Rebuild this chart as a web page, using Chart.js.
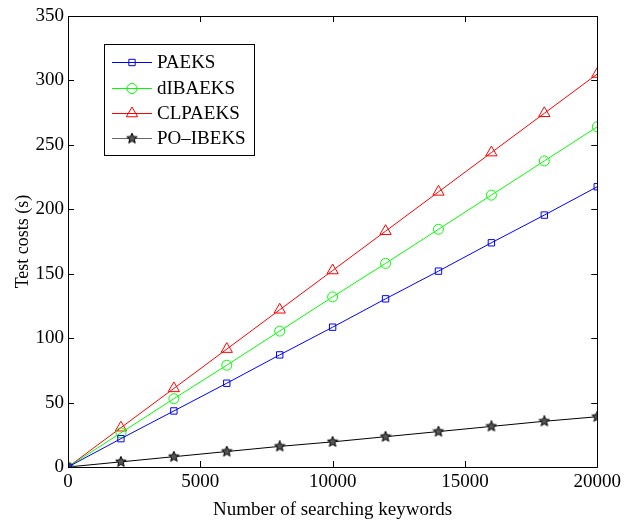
<!DOCTYPE html>
<html>
<head>
<meta charset="utf-8">
<script src="https://cdn.jsdelivr.net/npm/chart.js@4.4.0/dist/chart.umd.min.js"></script>
<style>
html,body{margin:0;padding:0;background:#fff;}
#wrap{width:625px;height:526px;position:relative;}
</style>
</head>
<body>
<div id="wrap"><canvas id="c" width="625" height="526"></canvas></div>
<script>
const keywords = [0, 2000, 4000, 6000, 8000, 10000, 12000, 14000, 16000, 18000, 20000];
const paeks   = [0, 22, 43.5, 65, 87, 108.5, 130.5, 152, 174, 195.5, 217.5];
const dibaeks = [0, 26.5, 53, 79, 105.5, 132, 158, 184.5, 211, 237.5, 264];
const clpaeks = [0, 30.5, 61, 91.5, 122, 152.5, 183, 213.5, 244, 274.5, 305];
const poibeks = [0, 4, 8, 12, 16, 19.5, 23.5, 27.5, 31.5, 35.5, 39];
const seriesNames = ['PAEKS', 'dIBAEKS', 'CLPAEKS', 'PO\u2013IBEKS'];
const xTicks = [0, 5000, 10000, 15000, 20000];
const yTicks = [0, 50, 100, 150, 200, 250, 300, 350];

const FONT = '"Liberation Serif", "Times New Roman", serif';

function starImage(size, fill, stroke) {
  const cv = document.createElement('canvas');
  cv.width = size; cv.height = size;
  const g = cv.getContext('2d');
  const cx = size / 2, cy = size / 2, R = size / 2 - 0.5, r = R * 0.45;
  g.beginPath();
  for (let i = 0; i < 10; i++) {
    const ang = -Math.PI / 2 + i * Math.PI / 5;
    const rad = i % 2 === 0 ? R : r;
    const x = cx + rad * Math.cos(ang), y = cy + rad * Math.sin(ang);
    if (i === 0) g.moveTo(x, y); else g.lineTo(x, y);
  }
  g.closePath();
  g.fillStyle = fill; g.fill();
  g.lineWidth = 1; g.strokeStyle = stroke; g.stroke();
  return cv;
}
const star = starImage(12, '#555', '#000');

function pts(vals) { return keywords.map((k, i) => ({x: k, y: vals[i]})); }

const colors = ['#0000ff', '#00ff00', '#ff0000', '#000000'];
const styles = ['rect', 'circle', 'triangle', star];
const radii = [4.5, 5, 6.5, 6];

const datasets = [paeks, dibaeks, clpaeks, poibeks].map((v, i) => ({
  label: seriesNames[i],
  data: pts(v),
  borderColor: colors[i],
  backgroundColor: 'rgba(0,0,0,0)',
  borderWidth: 1,
  pointStyle: styles[i],
  pointRadius: radii[i],
  pointBorderColor: colors[i],
  pointBackgroundColor: 'rgba(0,0,0,0)',
  pointBorderWidth: 1,
  tension: 0
}));

const boxPlugin = {
  id: 'box',
  afterDraw(chart) {
    const ctx = chart.ctx;
    const a = chart.chartArea;
    const xs = chart.scales.x, ys = chart.scales.y;
    ctx.save();
    ctx.strokeStyle = '#000';
    ctx.lineWidth = 1;
    ctx.beginPath();
    ctx.rect(Math.round(a.left) + 0.5, Math.round(a.top) + 0.5, Math.round(a.right - a.left), Math.round(a.bottom - a.top));
    ctx.stroke();
    const tl = 6;
    ctx.beginPath();
    xTicks.forEach(t => {
      const x = Math.round(xs.getPixelForValue(t)) + 0.5;
      ctx.moveTo(x, a.bottom); ctx.lineTo(x, a.bottom - tl);
      ctx.moveTo(x, a.top); ctx.lineTo(x, a.top + tl);
    });
    yTicks.forEach(t => {
      const y = Math.round(ys.getPixelForValue(t)) + 0.5;
      ctx.moveTo(a.left, y); ctx.lineTo(a.left + tl, y);
      ctx.moveTo(a.right, y); ctx.lineTo(a.right - tl, y);
    });
    ctx.stroke();

    // legend
    const bx = 104.5, by = 44.5, bw = 150, bh = 111;
    ctx.fillStyle = '#fff';
    ctx.fillRect(bx, by, bw, bh);
    ctx.strokeStyle = '#000';
    ctx.strokeRect(bx, by, bw, bh);
    const rows = [62, 88, 113, 138];
    chart.data.datasets.forEach((ds, i) => {
      const y = rows[i] + 0.5;
      ctx.strokeStyle = i === 3 ? '#666' : ds.borderColor;
      ctx.lineWidth = 1;
      ctx.beginPath();
      ctx.moveTo(112, y); ctx.lineTo(152, y);
      ctx.stroke();
      ctx.strokeStyle = ds.borderColor;
      ctx.fillStyle = 'rgba(0,0,0,0)';
      Chart.helpers.drawPoint(ctx, {
        pointStyle: ds.pointStyle,
        rotation: 0,
        radius: ds.pointRadius,
        borderWidth: 1
      }, 132, y);
      ctx.fillStyle = '#000';
      ctx.font = '19px ' + FONT;
      ctx.textBaseline = 'middle';
      ctx.textAlign = 'left';
      ctx.fillText(ds.label, 157, y + 1);
    });
    ctx.restore();
  }
};

new Chart(document.getElementById('c'), {
  type: 'line',
  data: { datasets },
  options: {
    responsive: false,
    animation: false,
    layout: { padding: { top: 16, right: 27, left: 0, bottom: 0 } },
    plugins: { legend: { display: false }, tooltip: { enabled: false } },
    scales: {
      x: {
        type: 'linear',
        min: 0, max: 20000,
        afterFit(s) { s.height = 59; },
        afterBuildTicks(s) { s.ticks = xTicks.map(v => ({value: v})); },
        grid: { display: false, drawTicks: false },
        border: { display: false },
        ticks: { color: '#000', font: { family: FONT, size: 19 }, padding: 4, maxRotation: 0, autoSkip: false, callback: v => String(v) },
        title: { display: true, text: 'Number of searching keywords', color: '#000', font: { family: FONT, size: 19 }, padding: { top: 0, bottom: 5 } }
      },
      y: {
        type: 'linear',
        min: 0, max: 350,
        afterFit(s) { s.width = 68; },
        afterBuildTicks(s) { s.ticks = yTicks.map(v => ({value: v})); },
        grid: { display: false, drawTicks: false },
        border: { display: false },
        ticks: { color: '#000', font: { family: FONT, size: 19 }, padding: 4, autoSkip: false, callback: v => String(v) },
        title: { display: true, text: 'Test costs (s)', color: '#000', font: { family: FONT, size: 18 }, padding: { top: 12, bottom: 0 } }
      }
    }
  },
  plugins: [boxPlugin]
});
</script>
</body>
</html>
